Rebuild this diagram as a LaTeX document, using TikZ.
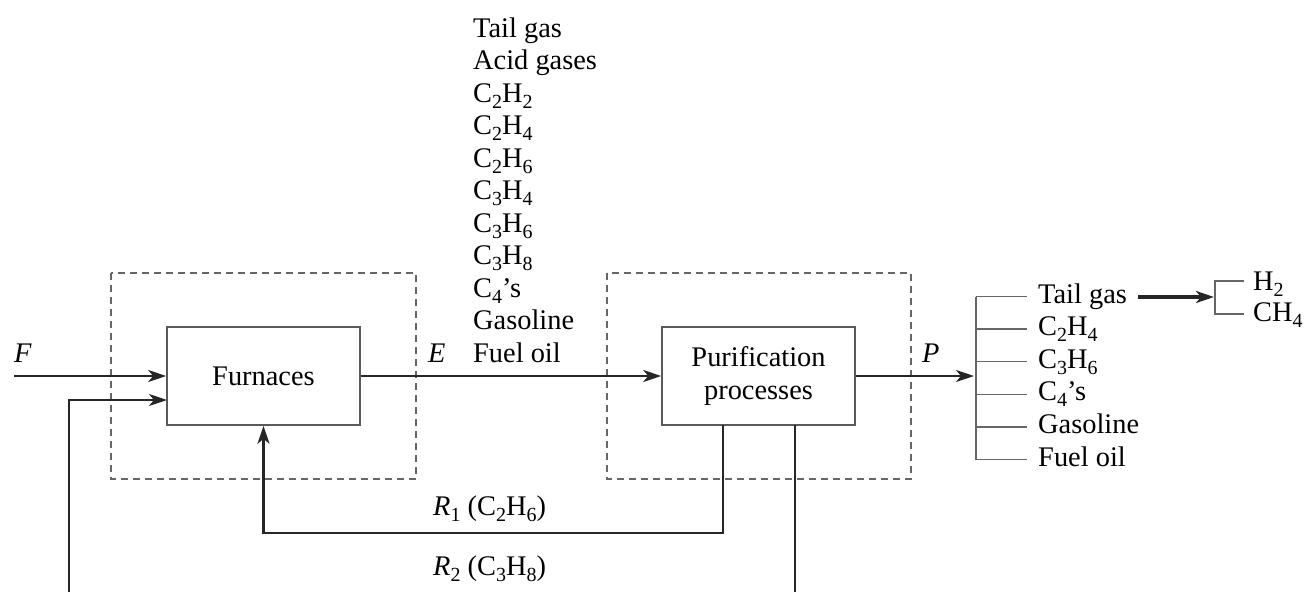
\documentclass[tikz,border=0pt]{standalone}
\usepackage{fontspec}
\setmainfont{Liberation Serif}
\usetikzlibrary{arrows.meta}
\newcommand{\ch}[1]{\raisebox{-6pt}{\fontsize{20}{20}\selectfont #1}}
\newcommand{\fs}{\fontsize{28.4}{33}\selectfont}
\tikzset{
 box/.style={draw=black!65, line width=1.6pt, minimum width=193pt, minimum height=98pt, inner sep=0pt, align=center, font=\fs},
 dbox/.style={draw=black!60, line width=1.5pt, dash pattern=on 7pt off 5pt},
 flow/.style={draw=black!85, line width=2.3pt, -{Stealth[length=18pt,width=12pt,inset=5pt]}},
 line/.style={draw=black!85, line width=2.3pt},
 tick/.style={draw=black!60, line width=1.5pt},
 lbl/.style={anchor=base west, inner sep=0pt, font=\fs},
}
\begin{document}
\begin{tikzpicture}[x=1pt,y=-1pt]
\useasboundingbox (0,0) rectangle (1307,592);
% dashed envelopes
\draw[dbox] (111,273) rectangle (416,479);
\draw[dbox] (607,273) rectangle (911,479);
% boxes
\node[box] (furn) at (263.5,376) {Furnaces};
\node[box] (puri) at (758.5,376) {Purification\\processes};
% coordinates
\coordinate (fin) at (14,376);
\coordinate (fin2) at (167,400);
\coordinate (r2bot) at (69,592);
\coordinate (p1) at (723,425);
\coordinate (r1corner) at (723,533);
\coordinate (p2) at (795,425);
\coordinate (p2bot) at (795,592);
\coordinate (pend) at (974,376);
% flows
\draw[flow] (fin) -- (furn.west);
\draw[flow] (r2bot) |- (fin2);
\draw[flow] (furn.east) -- (puri.west);
\draw[flow] (puri.east) -- (pend);
\draw[flow] (p1) -- (r1corner) -| (furn.south);
\draw[line] (p2) -- (p2bot);
% labels
\node[lbl] (lF) at (14,362) {\textit{F}};
\node[lbl] (lE) at (428,362) {\textit{E}};
\node[lbl] (lP) at (922,362) {\textit{P}};
\node[lbl] (lR1) at (433,515) {\textit{R}\ch{1} (C\ch{2}H\ch{6})};
\node[lbl] (lR2) at (433,575) {\textit{R}\ch{2} (C\ch{3}H\ch{8})};
% E list
\foreach \t [count=\i] in {{Tail gas},{Acid gases},{C\ch{2}H\ch{2}},{C\ch{2}H\ch{4}},{C\ch{2}H\ch{6}},{C\ch{3}H\ch{4}},{C\ch{3}H\ch{6}},{C\ch{3}H\ch{8}},{C\ch{4}'s},{Gasoline},{Fuel oil}}
  \node[lbl] (e\i) at (473,{37+32.5*(\i-1)}) {\t};
% P list
\draw[tick] (976,297) -- (976,459.5);
\foreach \t [count=\i] in {{Tail gas},{C\ch{2}H\ch{4}},{C\ch{3}H\ch{6}},{C\ch{4}'s},{Gasoline},{Fuel oil}}{
  \node[lbl] (p\i) at (1038,{303+32.6*(\i-1)}) {\t};
  \draw[tick] (976,{296.5+32.6*(\i-1)}) -- (1027,{296.5+32.6*(\i-1)});
}
% tail gas split
\coordinate (tgs) at (1138,297);
\coordinate (tge) at (1214,297);
\draw[draw=black!85, line width=3.2pt, -{Stealth[length=18pt,width=12pt,inset=5pt]}] (tgs) -- (tge);
\draw[tick] (1244,281) -- (1215,281) -- (1215,314) -- (1244,314);
\node[lbl] (h2) at (1253,290) {H\ch{2}};
\node[lbl] (ch4) at (1253,321) {CH\ch{4}};
\end{tikzpicture}
\end{document}
